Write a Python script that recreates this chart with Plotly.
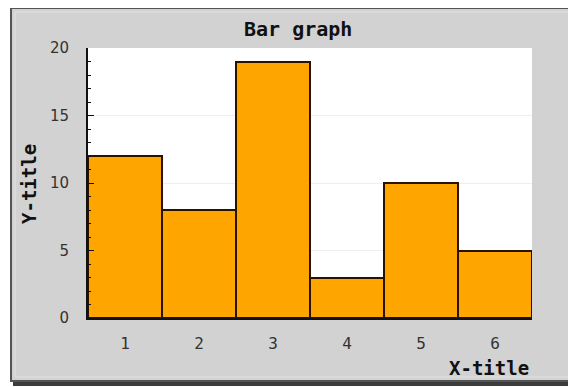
import plotly.graph_objects as go

categories = ["1", "2", "3", "4", "5", "6"]
values = [12, 8, 19, 3, 10, 5]
y_ticks = [0, 5, 10, 15, 20]

# page body has an 8px margin, so the figure is drawn at (8, 8)
OFF = 8
W, H = 576 - OFF, 387 - OFF
L, R, T, B = 88 - OFF, 44, 48 - OFF, 69
pw, ph = W - L - R, H - T - B

def px(x):  # page x -> paper fraction
    return (x - OFF - L) / pw

def py(y):  # page y -> paper fraction
    return (H - B - (y - OFF)) / ph

fig = go.Figure(go.Bar(
    x=list(range(1, len(categories) + 1)),
    y=values,
    marker=dict(color="#FFA500", line=dict(color="#2a1200", width=2)),
))

shapes = [
    dict(type="rect", xref="paper", yref="paper", layer="below",
         x0=px(13), x1=px(577), y0=py(386), y1=py(10),
         fillcolor="#3c3c3c", line=dict(width=0)),
    dict(type="rect", xref="paper", yref="paper", layer="below",
         x0=px(11), x1=px(573), y0=py(381), y1=py(8),
         fillcolor="#d2d2d2", line=dict(color="#555555", width=2)),
    dict(type="rect", xref="paper", yref="paper", layer="below",
         x0=px(15), x1=px(569), y0=py(377), y1=py(12),
         fillcolor="rgba(0,0,0,0)", line=dict(color="#e2e2e2", width=1)),
    dict(type="rect", xref="paper", yref="paper", layer="below",
         x0=0, x1=1, y0=0, y1=1,
         fillcolor="#ffffff", line=dict(width=0)),
]

fig.update_layout(
    width=W, height=H,
    margin=dict(l=L, r=R, t=T, b=B),
    paper_bgcolor="#ffffff",
    plot_bgcolor="rgba(0,0,0,0)",
    bargap=0,
    showlegend=False,
    shapes=shapes,
    font=dict(family="DejaVu Sans", color="#333333", size=14),
    xaxis=dict(
        range=[0.5, 6.5], tickmode="array",
        tickvals=list(range(1, len(categories) + 1)), ticktext=categories,
        showgrid=False, zeroline=False, showline=True, linecolor="#111111",
        linewidth=2, ticks="", ticklabelstandoff=10,
        tickfont=dict(family="DejaVu Sans Mono", size=16, color="#333333"),
    ),
    yaxis=dict(
        range=[0, 20], tickmode="array", tickvals=y_ticks,
        showgrid=True, gridcolor="#eeeeee", gridwidth=1,
        zeroline=False, showline=True, linecolor="#111111", linewidth=2,
        ticks="inside", ticklen=6, tickcolor="#111111", tickwidth=1,
        ticklabelstandoff=14,
        minor=dict(dtick=1, ticks="inside", ticklen=3, tickcolor="#111111", showgrid=False),
        tickfont=dict(family="DejaVu Sans", size=15, color="#333333"),
    ),
    annotations=[
        dict(text="<b>Bar graph</b>", xref="paper", yref="paper",
             x=px(298), y=py(29), xanchor="center", yanchor="middle",
             showarrow=False,
             font=dict(family="DejaVu Sans Mono", size=20, color="#111111")),
        dict(text="<b>X-title</b>", xref="paper", yref="paper",
             x=px(531), y=py(368), xanchor="right", yanchor="middle",
             showarrow=False,
             font=dict(family="DejaVu Sans Mono", size=19, color="#111111")),
        dict(text="<b>Y-title</b>", xref="paper", yref="paper",
             x=px(29), y=py(184), xanchor="center", yanchor="middle",
             textangle=-90, showarrow=False,
             font=dict(family="DejaVu Sans Mono", size=19, color="#111111")),
    ],
)

fig.write_html("out.html")
